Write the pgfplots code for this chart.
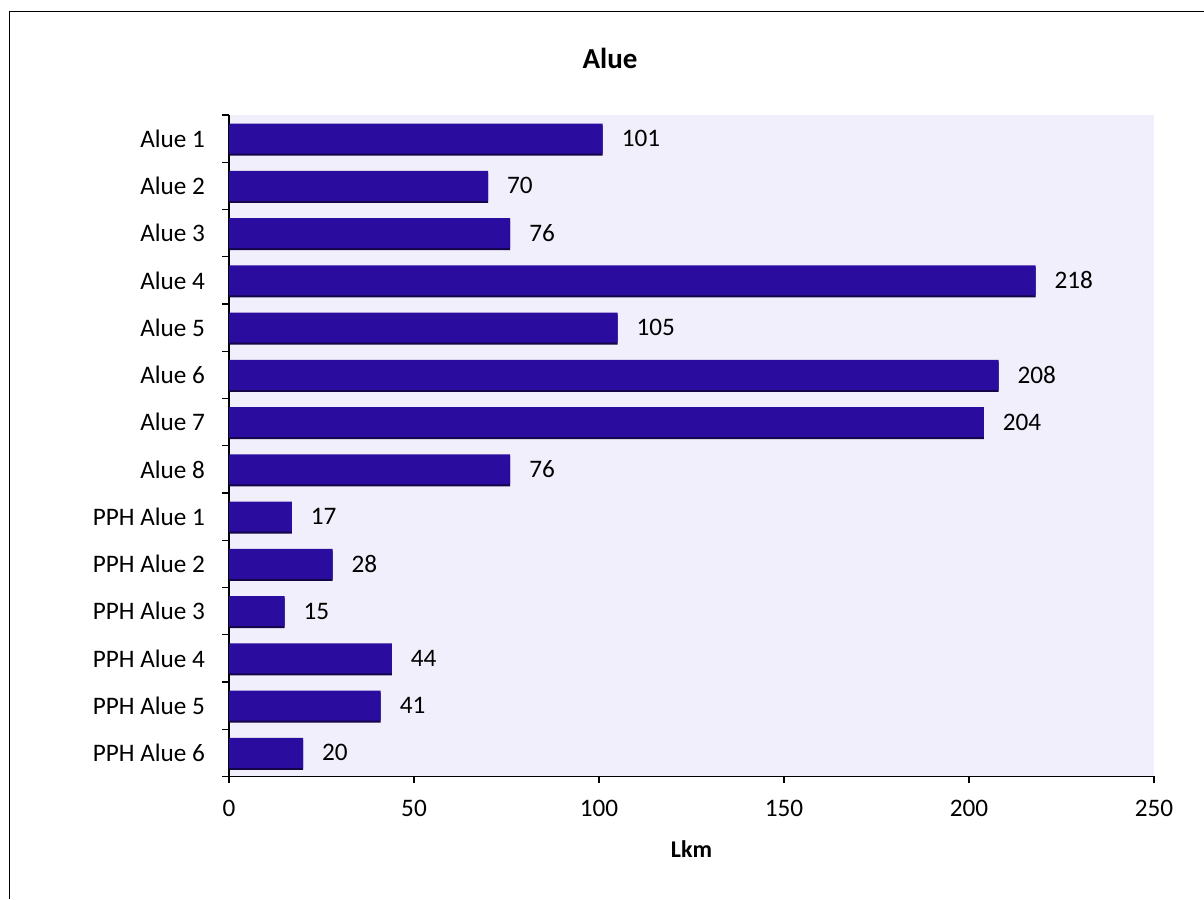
\documentclass[border=0pt]{standalone}
\usepackage{pgfplots}
\pgfplotsset{compat=1.18}
\usepackage{fontspec}
\setmainfont{Carlito}
\definecolor{barblue}{RGB}{42,12,158}
\definecolor{barshadow}{RGB}{20,5,70}
\definecolor{plotbg}{RGB}{241,239,251}
\begin{document}
\begin{tikzpicture}
\useasboundingbox (0,0) rectangle (602pt,449.5pt);
% outer chart frame (only left and top edges are visible)
\draw[line width=0.5pt] (4.5pt,0) -- (4.5pt,443.5pt) -- (602pt,443.5pt);
\node[font=\fontsize{14.5}{17}\selectfont\bfseries] at (305pt,420.5pt) {Alue};
\begin{axis}[
  at={(114.5pt,61.25pt)}, anchor=south west,
  scale only axis, width=462.5pt, height=330.75pt,
  xbar, bar width=15pt,
  xmin=0, xmax=250, ymin=-0.5, ymax=13.5,
  xtick={0,50,...,250},
  ytick={-0.5,0.5,...,13.5},
  y tick label as interval,
  yticklabels={PPH Alue 6,PPH Alue 5,PPH Alue 4,PPH Alue 3,PPH Alue 2,PPH Alue 1,
    Alue 8,Alue 7,Alue 6,Alue 5,Alue 4,Alue 3,Alue 2,Alue 1},
  axis x line*=bottom, axis y line*=left,
  axis line style={line width=0.75pt},
  tick align=outside, major tick length=3.5pt,
  tick style={black, line width=0.6pt},
  axis background/.style={fill=plotbg},
  /pgf/number format/assume math mode=true,
  ticklabel style={font=\fontsize{12.6}{15}\selectfont},
  xticklabel style={yshift=-5pt},
  yticklabel style={xshift=-5pt},
  xlabel={\textbf{Lkm}},
  xlabel style={font=\fontsize{12}{14}\selectfont, at={(rel axis cs:0.5,0)}, anchor=center, yshift=-36.25pt},
]
% thin dark edge under each bar
\addplot[fill=barshadow, draw=none, bar shift=-1pt] coordinates {
  (101,13) (70,12) (76,11) (218,10) (105,9) (208,8) (204,7) (76,6)
  (17,5) (28,4) (15,3) (44,2) (41,1) (20,0)};
\addplot[fill=barblue, draw=none, bar shift=0pt, nodes near coords,
  every node near coord/.append style={font=\fontsize{12.6}{15}\selectfont, anchor=west, xshift=6pt, black}]
  coordinates {
  (101,13) (70,12) (76,11) (218,10) (105,9) (208,8) (204,7) (76,6)
  (17,5) (28,4) (15,3) (44,2) (41,1) (20,0)};
\end{axis}
\end{tikzpicture}
\end{document}
